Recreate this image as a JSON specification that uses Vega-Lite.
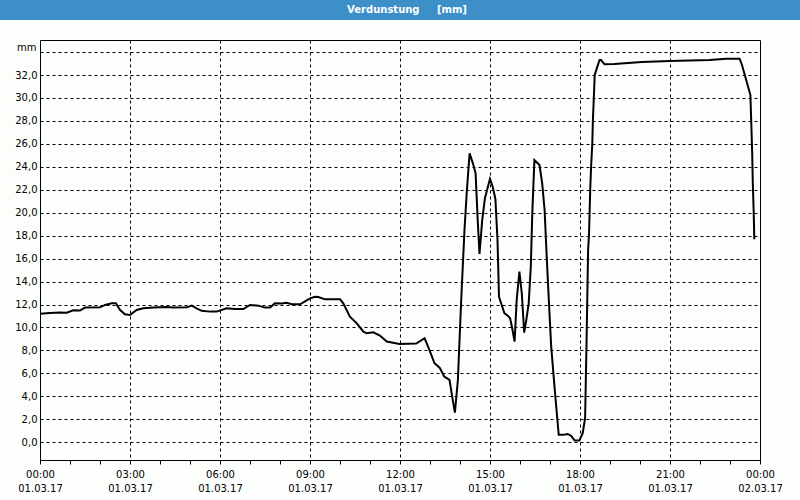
{
  "$schema": "https://vega.github.io/schema/vega-lite/v6.json",
  "background": "#fcfefc",
  "padding": 0,
  "autosize": {"type": "pad"},
  "spacing": 20,
  "bounds": "flush",
  "center": true,
  "config": {
    "font": "DejaVu Sans",
    "view": {"stroke": "black", "strokeWidth": 1}
  },
  "vconcat": [
    {
      "width": 800,
      "height": 20,
      "view": {"fill": "#3c8fc7", "stroke": null},
      "data": {"values": [{"title": "Verdunstung\u00a0\u00a0\u00a0\u00a0 [mm]"}]},
      "mark": {"type": "text", "color": "white", "font": "DejaVu Sans", "fontWeight": "bold", "fontSize": 10, "dx": 7, "baseline": "middle"},
      "encoding": {"text": {"field": "title", "type": "nominal"}}
    },
    {
      "width": 720,
      "height": 420,
      "data": {"values": [
        {"h": 0.00, "v": 11.2}, {"h": 0.33, "v": 11.25}, {"h": 0.67, "v": 11.3}, {"h": 0.89, "v": 11.28},
        {"h": 1.11, "v": 11.5}, {"h": 1.33, "v": 11.47}, {"h": 1.50, "v": 11.73}, {"h": 2.00, "v": 11.75},
        {"h": 2.17, "v": 11.96}, {"h": 2.39, "v": 12.1}, {"h": 2.53, "v": 12.1}, {"h": 2.67, "v": 11.52},
        {"h": 2.83, "v": 11.15}, {"h": 3.00, "v": 11.09}, {"h": 3.22, "v": 11.52}, {"h": 3.44, "v": 11.67},
        {"h": 3.78, "v": 11.73}, {"h": 4.22, "v": 11.78}, {"h": 4.44, "v": 11.73}, {"h": 4.89, "v": 11.75},
        {"h": 5.06, "v": 11.9}, {"h": 5.22, "v": 11.67}, {"h": 5.39, "v": 11.45}, {"h": 5.67, "v": 11.38},
        {"h": 5.89, "v": 11.38}, {"h": 6.22, "v": 11.67}, {"h": 6.50, "v": 11.6}, {"h": 6.78, "v": 11.6},
        {"h": 7.00, "v": 11.96}, {"h": 7.28, "v": 11.9}, {"h": 7.50, "v": 11.73}, {"h": 7.67, "v": 11.73},
        {"h": 7.83, "v": 12.1}, {"h": 8.06, "v": 12.08}, {"h": 8.22, "v": 12.16}, {"h": 8.39, "v": 12.02},
        {"h": 8.67, "v": 12.02}, {"h": 9.00, "v": 12.54}, {"h": 9.17, "v": 12.68}, {"h": 9.28, "v": 12.65},
        {"h": 9.50, "v": 12.45}, {"h": 10.00, "v": 12.45}, {"h": 10.11, "v": 12.1}, {"h": 10.33, "v": 10.94},
        {"h": 10.56, "v": 10.36}, {"h": 10.78, "v": 9.63}, {"h": 10.89, "v": 9.49}, {"h": 11.11, "v": 9.58},
        {"h": 11.33, "v": 9.3}, {"h": 11.56, "v": 8.78}, {"h": 11.98, "v": 8.55}, {"h": 12.54, "v": 8.6},
        {"h": 12.82, "v": 9.06}, {"h": 12.98, "v": 8.04}, {"h": 13.15, "v": 6.88}, {"h": 13.32, "v": 6.5},
        {"h": 13.48, "v": 5.71}, {"h": 13.65, "v": 5.43}, {"h": 13.74, "v": 3.97}, {"h": 13.83, "v": 2.58},
        {"h": 13.93, "v": 5.43}, {"h": 14.04, "v": 12.4}, {"h": 14.15, "v": 18.5}, {"h": 14.23, "v": 21.98},
        {"h": 14.32, "v": 25.17}, {"h": 14.43, "v": 24.3}, {"h": 14.52, "v": 23.43}, {"h": 14.59, "v": 19.36},
        {"h": 14.65, "v": 16.4}, {"h": 14.74, "v": 19.36}, {"h": 14.83, "v": 21.25}, {"h": 14.93, "v": 22.27},
        {"h": 15.00, "v": 22.95}, {"h": 15.09, "v": 22.27}, {"h": 15.18, "v": 21.2}, {"h": 15.25, "v": 17.62},
        {"h": 15.30, "v": 12.68}, {"h": 15.41, "v": 11.81}, {"h": 15.48, "v": 11.24}, {"h": 15.59, "v": 11.03},
        {"h": 15.67, "v": 10.8}, {"h": 15.74, "v": 9.93}, {"h": 15.82, "v": 8.76}, {"h": 15.89, "v": 12.4},
        {"h": 15.98, "v": 14.86}, {"h": 16.06, "v": 12.98}, {"h": 16.14, "v": 9.55}, {"h": 16.21, "v": 10.65},
        {"h": 16.29, "v": 12.1}, {"h": 16.36, "v": 15.3}, {"h": 16.41, "v": 19.95}, {"h": 16.48, "v": 24.59},
        {"h": 16.65, "v": 24.16}, {"h": 16.74, "v": 22.56}, {"h": 16.82, "v": 20.24}, {"h": 16.89, "v": 16.17},
        {"h": 16.96, "v": 12.4}, {"h": 17.04, "v": 8.33}, {"h": 17.15, "v": 4.84}, {"h": 17.29, "v": 0.64},
        {"h": 17.43, "v": 0.64}, {"h": 17.59, "v": 0.72}, {"h": 17.71, "v": 0.55}, {"h": 17.82, "v": 0.14},
        {"h": 17.98, "v": 0.14}, {"h": 18.09, "v": 0.78}, {"h": 18.17, "v": 2.09}, {"h": 18.22, "v": 9.0},
        {"h": 18.27, "v": 16.75}, {"h": 18.30, "v": 18.06}, {"h": 18.34, "v": 21.98}, {"h": 18.37, "v": 24.0},
        {"h": 18.41, "v": 26.05}, {"h": 18.43, "v": 28.07}, {"h": 18.46, "v": 29.97}, {"h": 18.49, "v": 32.0},
        {"h": 18.56, "v": 32.58}, {"h": 18.65, "v": 33.3}, {"h": 18.70, "v": 33.3}, {"h": 18.82, "v": 32.93},
        {"h": 19.15, "v": 32.96}, {"h": 20.06, "v": 33.13}, {"h": 21.00, "v": 33.22}, {"h": 22.32, "v": 33.3},
        {"h": 22.87, "v": 33.42}, {"h": 23.32, "v": 33.42}, {"h": 23.40, "v": 32.87}, {"h": 23.54, "v": 31.56},
        {"h": 23.65, "v": 30.54}, {"h": 23.68, "v": 30.25}, {"h": 23.71, "v": 27.79}, {"h": 23.74, "v": 25.17},
        {"h": 23.76, "v": 22.56}, {"h": 23.79, "v": 20.09}, {"h": 23.81, "v": 17.68}
      ]},
      "view": {"stroke": "black", "strokeWidth": 1, "fill": "#fcfefc"},
      "mark": {"type": "line", "color": "black", "strokeWidth": 2},
      "encoding": {
        "x": {
          "field": "h",
          "type": "quantitative",
          "scale": {"domain": [0, 24], "nice": false, "zero": false},
          "axis": {
            "title": null,
            "values": [0,1,2,3,4,5,6,7,8,9,10,11,12,13,14,15,16,17,18,19,20,21,22,23,24],
            "labelExpr": "datum.value % 3 != 0 ? '' : (datum.value == 24 ? ['00:00', '02.03.17'] : [(datum.value < 10 ? '0' : '') + datum.value + ':00', '01.03.17'])",
            "labelOverlap": false,
            "labelFont": "DejaVu Sans",
            "labelFontSize": 10,
            "labelColor": "black",
            "labelLineHeight": 14,
            "labelPadding": 5,
            "labelBaseline": "top",
            "labelFlush": false,
            "domain": false,
            "ticks": true,
            "tickSize": 4,
            "tickColor": "black",
            "tickWidth": 1,
            "grid": true,
            "gridColor": "black",
            "gridDash": [3, 3],
            "gridWidth": 1,
            "gridOpacity": {"condition": {"test": "datum.value % 3 == 0 && datum.value > 0 && datum.value < 24", "value": 1}, "value": 0}
          }
        },
        "y": {
          "field": "v",
          "type": "quantitative",
          "scale": {"domain": [-1.55, 35.05], "nice": false, "zero": false},
          "axis": {
            "values": [0,2,4,6,8,10,12,14,16,18,20,22,24,26,28,30,32,34],
            "labelExpr": "datum.value == 34 ? '' : replace(format(datum.value, '.1f'), '.', ',')",
            "labelFont": "DejaVu Sans",
            "labelFontSize": 10,
            "labelColor": "black",
            "labelPadding": 3,
            "labelFlush": false,
            "labelOverlap": false,
            "domain": false,
            "ticks": false,
            "grid": true,
            "gridColor": "black",
            "gridDash": [3, 3],
            "gridWidth": 1,
            "title": "mm",
            "titleAngle": 0,
            "titleAlign": "right",
            "titleBaseline": "middle",
            "titleX": -4,
            "titleY": 7,
            "titleFont": "DejaVu Sans",
            "titleFontSize": 10,
            "titleFontWeight": "normal",
            "titleColor": "black"
          }
        }
      }
    }
  ]
}
